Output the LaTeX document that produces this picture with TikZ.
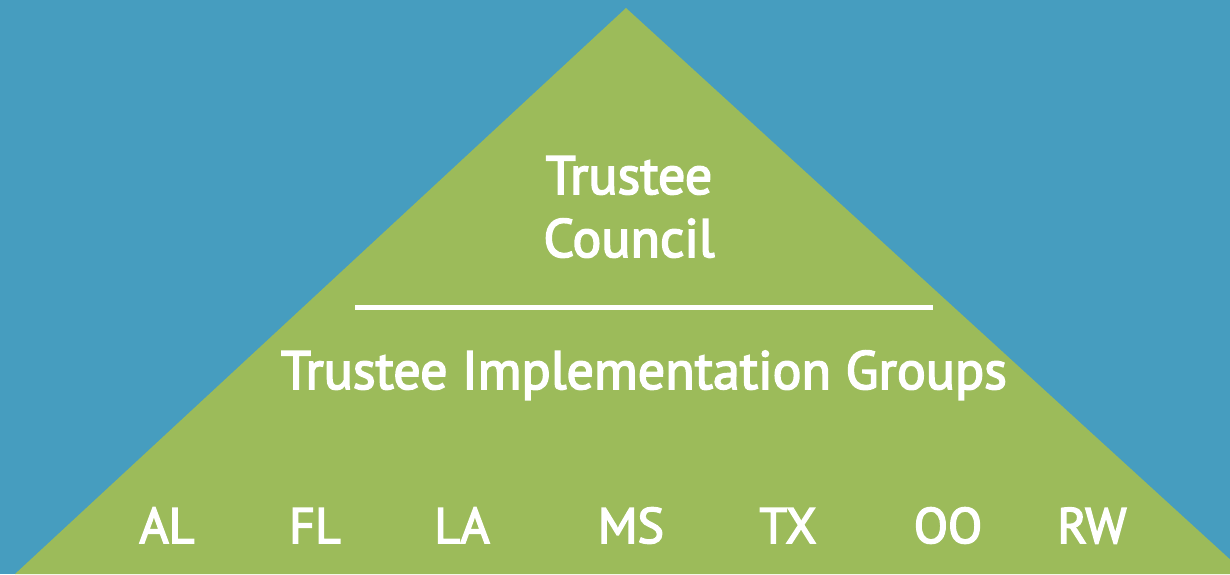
\documentclass[tikz,border=0pt]{standalone}
\usepackage{fontspec}
\setmainfont{PT Sans}
\definecolor{bgblue}{HTML}{469DBF}
\definecolor{trigreen}{HTML}{9CBB5A}
\begin{document}
\begin{tikzpicture}[x=1pt,y=-1pt,
  lbl/.style={text=white,inner sep=0pt,anchor=base,font=\fontsize{54}{63}\selectfont\addfontfeatures{FakeBold=3}},
  state/.style={text=white,inner sep=0pt,anchor=base,font=\fontsize{50}{60}\selectfont\addfontfeatures{FakeBold=3}}]
\useasboundingbox (0,0) rectangle (1230,574);
\clip (0,0) rectangle (1230,574);
\fill[bgblue] (0,0) rectangle (1230,574);
\coordinate (apex) at (626,8);
\coordinate (bl) at (15,574);
\coordinate (br) at (1246,574);
\fill[trigreen] (apex) -- (bl) -- (br) -- cycle;
\node[lbl] (tc1) at (629,194) {Trustee};
\node[lbl] (tc2) at (629,257) {Council};
\coordinate (ls) at (355,307);
\coordinate (le) at (933,307);
\draw[white,line width=5pt] (ls) -- (le);
\node[lbl] (tig) at (644,389) {Trustee Implementation Groups};
\node[state] (al) at (167,543) {AL};
\node[state] (fl) at (315,543) {FL};
\node[state] (la) at (462,543) {LA};
\node[state] (ms) at (631,543) {MS};
\node[state] (tx) at (788,543) {TX};
\node[state] (oo) at (948,543) {OO};
\node[state] (rw) at (1092,543) {RW};
\end{tikzpicture}
\end{document}
